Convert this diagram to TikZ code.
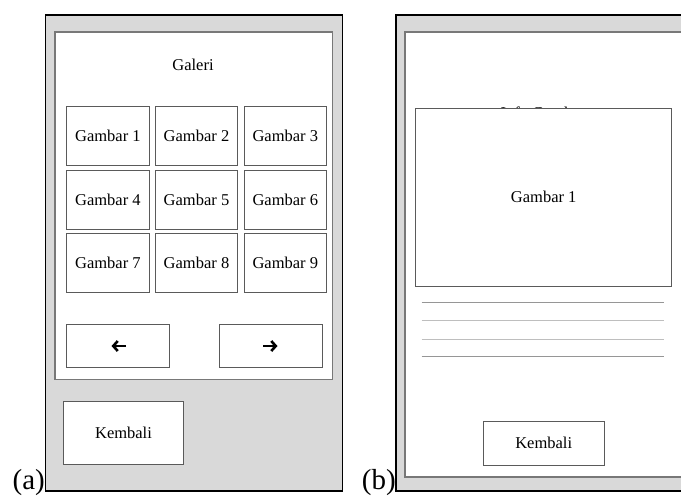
\documentclass[tikz,border=0pt]{standalone}
\usepackage{fontspec}
\setmainfont{Liberation Serif}
\usepackage{tikz}
\usetikzlibrary{arrows.meta}

\definecolor{panelgray}{RGB}{217,217,217}
\definecolor{edgegray}{RGB}{120,120,120}
\definecolor{boxgray}{RGB}{90,90,90}
\definecolor{rulegray}{RGB}{150,150,150}
\definecolor{rulelight}{RGB}{190,190,190}

\begin{document}
\begin{tikzpicture}[x=1pt,y=-1pt]
\tikzstyle{every node}+=[inner sep=0pt, font=\fontsize{16.5}{19}\selectfont]
\tikzstyle{frame}=[draw=black, fill=panelgray, line width=1.3pt]
\tikzstyle{screen}=[draw=edgegray, fill=white, line width=1.3pt]
\tikzstyle{btn}=[draw=boxgray, fill=white, line width=0.9pt]
\tikzstyle{navarrow}=[black, line width=2.6pt, -{Straight Barb[length=4.5pt, width=10pt, line width=2.6pt]}]
\tikzstyle{tag}=[anchor=base east, font=\fontsize{29}{32}\selectfont]
\clip (0,0) rectangle (681,496);
\useasboundingbox (0,0) rectangle (681,496);
% (a) galeri
\draw [frame] (45.5,15) rectangle (342.5,491);
\draw [screen] (55,32) rectangle (332.5,379.5);
\node (galeri) at (193,65) {Galeri};
\node [btn, minimum width=82.3pt, minimum height=58.3pt] (g1) at (107.9,135.8) {Gambar 1};
\node [btn, minimum width=82.4pt, minimum height=58.3pt] (g2) at (196.5,135.8) {Gambar 2};
\node [btn, minimum width=82.7pt, minimum height=58.3pt] (g3) at (285.3,135.8) {Gambar 3};
\node [btn, minimum width=82.3pt, minimum height=59pt] (g4) at (107.9,199.5) {Gambar 4};
\node [btn, minimum width=82.4pt, minimum height=59pt] (g5) at (196.5,199.5) {Gambar 5};
\node [btn, minimum width=82.7pt, minimum height=59pt] (g6) at (285.3,199.5) {Gambar 6};
\node [btn, minimum width=82.3pt, minimum height=59pt] (g7) at (107.9,262.8) {Gambar 7};
\node [btn, minimum width=82.4pt, minimum height=59pt] (g8) at (196.5,262.8) {Gambar 8};
\node [btn, minimum width=82.7pt, minimum height=59pt] (g9) at (285.3,262.8) {Gambar 9};
\node [btn, minimum width=102.6pt, minimum height=42.6pt] (prev) at (118,346) {};
\node [btn, minimum width=102.6pt, minimum height=42.6pt] (next) at (271,346) {};
\draw [navarrow] ([xshift=8pt]prev.center) -- ([xshift=-6.5pt]prev.center);
\draw [navarrow] ([xshift=-8pt]next.center) -- ([xshift=6.5pt]next.center);
\node [btn, minimum width=120.4pt, minimum height=62.6pt] (kembalia) at (123.5,433) {Kembali};
\node [tag] (laba) at (45,489) {(a)};
% (b) detail gambar
\draw [frame] (396,15) rectangle (700,491);
\draw [screen] (405,32) rectangle (700,477);
\node [anchor=base] (info) at (543,118) {Info Gambar};
\node [btn, minimum width=256pt, minimum height=178.7pt] (gbesar) at (543.7,197.3) {Gambar 1};
\coordinate (t1) at (421.7,302.3);
\coordinate (t2) at (421.7,320.3);
\coordinate (t3) at (421.7,339);
\coordinate (t4) at (421.7,356.7);
\draw [rulegray, line width=0.8pt] (t1) -- ++(242.6,0);
\draw [rulelight, line width=0.8pt] (t2) -- ++(242.6,0);
\draw [rulelight, line width=0.8pt] (t3) -- ++(242.6,0);
\draw [rulegray, line width=0.8pt] (t4) -- ++(242.6,0);
\node [btn, minimum width=120.7pt, minimum height=44.7pt] (kembalib) at (543.7,443.3) {Kembali};
\node [tag] (labb) at (396,489) {(b)};
\end{tikzpicture}
\end{document}
